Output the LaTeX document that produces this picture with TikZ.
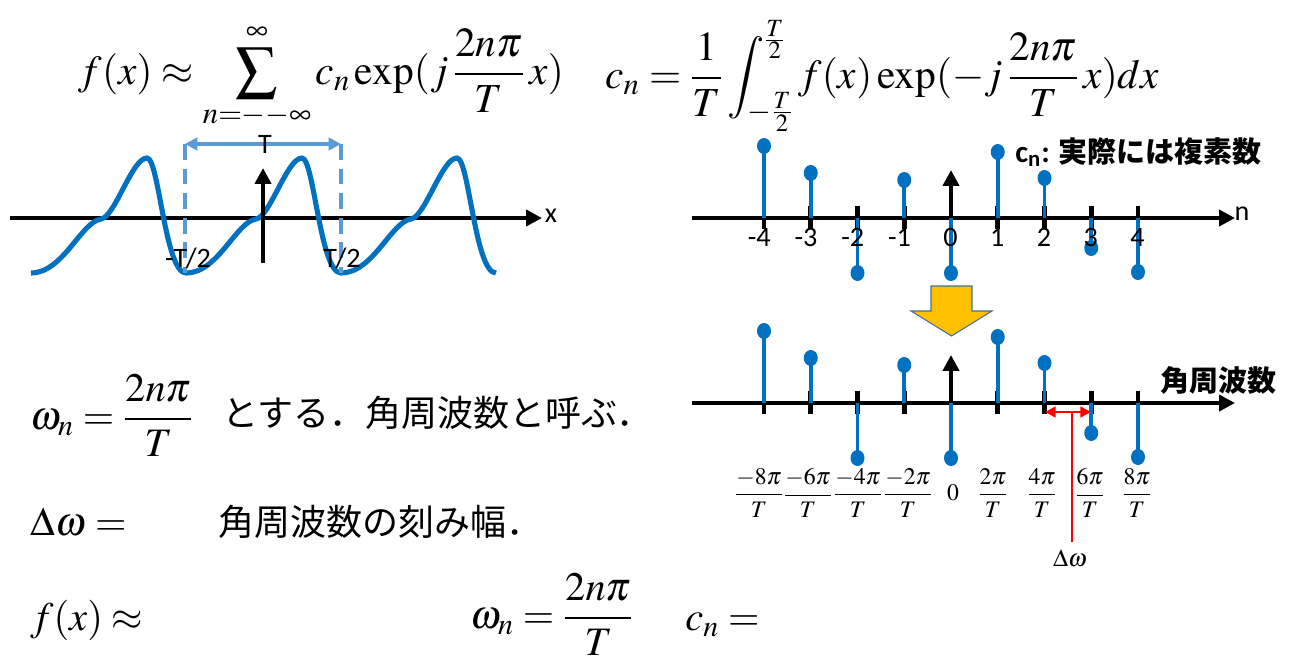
\documentclass[tikz,border=0pt]{standalone}
\usepackage{amsmath}
\usepackage{mathptmx}
\usepackage[no-math]{fontspec}
\setmainfont{Carlito}
\newfontfamily\jpfont{Noto Sans CJK JP}
\usetikzlibrary{arrows.meta}
\definecolor{stemblue}{RGB}{0,112,192}
\definecolor{dashblue}{RGB}{91,155,213}
\definecolor{arrowyellow}{RGB}{255,192,0}
\definecolor{arrowedge}{RGB}{65,113,156}
\begin{document}
\begin{tikzpicture}[x=0.02cm,y=-0.02cm,
  axis/.style={line width=2.5pt,-{Triangle[length=9pt,width=9pt]}},
  tickmark/.style={line width=2.6pt},
  stem/.style={stemblue,line width=2.2pt},
  eqn/.style={inner sep=0pt,font=\fontsize{23}{28}\selectfont},
  jptext/.style={inner sep=0pt,font=\jpfont\fontsize{20.5}{24}\selectfont},
  lbl/.style={inner sep=0pt,font=\fontsize{16}{19}\selectfont},
  jplbl/.style={inner sep=0pt,font=\jpfont\bfseries\fontsize{16.5}{20}\selectfont},
  wlbl/.style={inner sep=0pt,font=\fontsize{13.5}{16}\selectfont}]
\useasboundingbox (0,0) rectangle (1292,663);

% formulas at the top
\node[eqn,font=\fontsize{23.5}{28}\selectfont,anchor=base west] (fsum) at (78,84) {$\displaystyle f(x)\approx\sum_{n=--\infty}^{\infty}c_n\exp(j\,\frac{2n\pi}{T}\,x)$};
\node[eqn,font=\fontsize{23.5}{28}\selectfont,anchor=base west] (cint) at (605,88) {$\displaystyle c_n=\frac{1}{T}\int_{-\frac{T}{2}}^{\frac{T}{2}}f(x)\exp(-j\,\frac{2n\pi}{T}\,x)dx$};

% periodic f(x)
\coordinate (xl) at (10,218);
\coordinate (xr) at (542,218);
\draw[axis] (xl) -- (xr);
\node[lbl] (xlab) at (551,216) {x};
\draw[stemblue,line width=2.9pt] (31,273) \foreach \m in {31,186,341}{
  .. controls (\m+32,273) and (\m+50,222) .. (\m+70,219)
  .. controls (\m+84,217) and (\m+101,158) .. (\m+116,158)
  .. controls (\m+128,158) and (\m+134,273) .. (\m+155,273)};
\coordinate (yb) at (263,263);
\coordinate (yt) at (263,168);
\draw[axis] (yb) -- (yt);

\coordinate (lt) at (185,144);
\coordinate (lb) at (185,273);
\coordinate (rt) at (341,144);
\coordinate (rb) at (341,273);
\draw[dashblue,line width=2.1pt,dash pattern=on 9pt off 5pt] (lt) -- (lb);
\draw[dashblue,line width=2.1pt,dash pattern=on 9pt off 5pt] (rt) -- (rb);
\draw[dashblue,line width=1.8pt,{Triangle[length=7pt,width=7pt]}-{Triangle[length=7pt,width=7pt]}] (lt) -- (rt);
\node[lbl] (tlab) at (265,144) {T};
\node[lbl] (mhalf) at (188,258) {-T/2};
\node[lbl] (phalf) at (342,258) {T/2};

% coefficients, upper: n, lower: angular wavenumber
\foreach \yax/\pl in {218/a,403/b}{
  \coordinate (\pl l) at (692,\yax);
  \coordinate (\pl r) at (1235,\yax);
  \draw[axis] (\pl l) -- (\pl r);
  \foreach \n in {-4,...,4}
    \draw[tickmark] ({951+46.75*\n},{\yax-12}) -- ({951+46.75*\n},{\yax+11});
  \foreach \n/\h in {-4/72,-3/45,-2/-55,-1/38,0/-55,1/66,2/40,3/-30,4/-54}{
    \draw[stem] ({951+46.75*\n},\yax) -- ({951+46.75*\n},{\yax-(\h)});
    \fill[stemblue] ({951+46.75*\n},{\yax-(\h)}) ellipse (7 and 8);
  }
  \coordinate (\pl o) at (951,\yax);
  \coordinate (\pl t) at (951,{\yax-48});
  \draw[axis] (\pl o) -- (\pl t);
}
\node[lbl] (nlab) at (1242,214) {n};
\foreach \n in {-4,...,4}
  \node[lbl,anchor=base east] (n\n) at ({951+46.75*\n+7},246) {\n};
\node[jplbl,anchor=west] (cnote) at (1015,152) {{\normalfont\bfseries\fontsize{17.5}{20}\selectfont c\textsubscript{n}:} 実際には複素数};
\node[jplbl,anchor=west] (wnote) at (1160,380) {角周波数};

\filldraw[fill=arrowyellow,draw=arrowedge,line width=0.6pt] (931,286) -- (972,286) -- (972,311) -- (992,311) -- (951.5,336) -- (911,311) -- (931,311) -- cycle;

\foreach \x/\t in {759/{-8\pi},808/{-6\pi},858/{-4\pi},908/{-2\pi},993/{2\pi},1042/{4\pi},1090/{6\pi},1137/{8\pi}}
  \node[wlbl] (w\x) at (\x,493) {$\dfrac{\t}{T}$};
\node[wlbl] (w0) at (953,493) {$0$};

\coordinate (d2) at (1045,412);
\coordinate (d3) at (1091,412);
\coordinate (dm) at (1072,412);
\coordinate (dbot) at (1072,542);
\draw[red,line width=1.4pt,{Triangle[length=6pt,width=6pt]}-{Triangle[length=6pt,width=6pt]}] (d2) -- (d3);
\draw[red,line width=1.4pt] (dm) -- (dbot);
\node[wlbl,font=\fontsize{14}{16}\selectfont] (dwlab) at (1070,558) {$\Delta\omega$};

% definitions below
\node[eqn,anchor=base west] (wn) at (30,429) {$\displaystyle\omega_n=\frac{2n\pi}{T}$};
\node[jptext,anchor=base west] (wnjp) at (222,426) {とする．角周波数と呼ぶ．};
\node[eqn,anchor=base west] (dw) at (30,535) {$\Delta\omega=$};
\node[jptext,anchor=base west] (dwjp) at (218,535) {角周波数の刻み幅．};
\node[eqn,anchor=base west] (fx) at (30,630) {$f(x)\approx$};
\node[eqn,anchor=base west] (wn2) at (470,628) {$\displaystyle\omega_n=\frac{2n\pi}{T}$};
\node[eqn,anchor=base west] (cn) at (685,630) {$c_n=$};
\end{tikzpicture}
\end{document}
